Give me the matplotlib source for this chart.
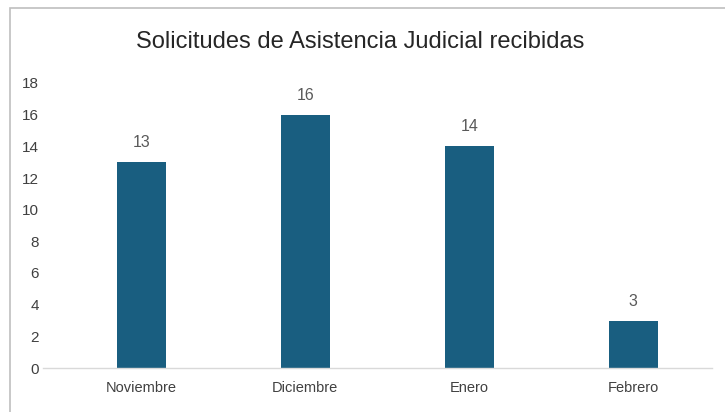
import matplotlib
matplotlib.use("Agg")
import matplotlib.pyplot as plt
from matplotlib.patches import Rectangle

# Data
months = ["Noviembre", "Diciembre", "Enero", "Febrero"]
requests = [13, 16, 14, 3]
y_ticks = [0, 2, 4, 6, 8, 10, 12, 14, 16, 18]

plt.rcParams['font.family'] = ['Liberation Sans Narrow', 'Liberation Sans', 'DejaVu Sans']

fig = plt.figure(figsize=(7.25, 4.12), dpi=100)
ax = fig.add_axes([43 / 725, 1 - 368 / 412, (712 - 43) / 725, (368 - 83) / 412])

x = range(len(months))
bars = ax.bar(x, requests, width=0.30, color="#195e80", zorder=2)
for b, v in zip(bars, requests):
    ax.text(b.get_x() + b.get_width() / 2, v + 0.75, str(v),
            ha='center', va='bottom', fontsize=11.5, color="#595959")

ax.set_xlim(-0.6, 3.48)
ax.set_ylim(0, 18)
ax.set_yticks(y_ticks)
ax.set_xticks(list(x))
ax.set_xticklabels(months)
ax.tick_params(axis='both', length=0, labelsize=10.5, colors="#404040")
ax.tick_params(axis='y', pad=3, labelsize=11)
ax.tick_params(axis='x', pad=9)

for s in ['top', 'right', 'left']:
    ax.spines[s].set_visible(False)
ax.spines['bottom'].set_color("#d9d9d9")
ax.spines['bottom'].set_linewidth(1.0)

fig.text(0.497, 1 - 42 / 412, "Solicitudes de Asistencia Judicial recibidas",
         ha='center', va='center', fontsize=17, color="#262626")

# outer chart border (gray frame at top and left)
fig.patches.append(Rectangle((10 / 725, -0.05), 1.2, 1 - 8 / 412 + 0.05,
                             transform=fig.transFigure, fill=False,
                             edgecolor="#bfbfbf", linewidth=1.2))

fig.savefig("out.png", dpi=100)
